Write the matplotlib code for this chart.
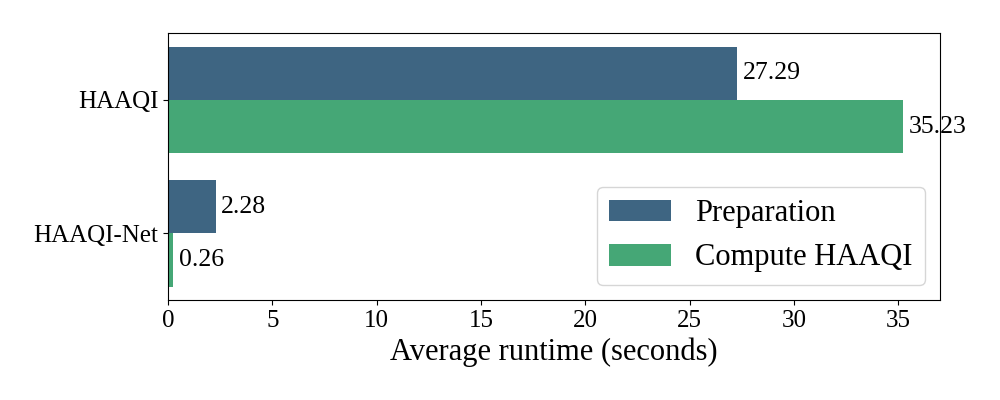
import numpy as np
import matplotlib.pyplot as plt

plt.rcParams['font.family'] = ['Liberation Serif', 'DejaVu Serif']

models = ['HAAQI', 'HAAQI-Net']
stages = ['Preparation', 'Compute HAAQI']
preparation = [27.29, 2.28]
compute = [35.23, 0.26]
colors = ['#3e6582', '#45a776']

fig, ax = plt.subplots(figsize=(10, 4), dpi=100)
y = np.arange(len(models))
h = 0.4

for i, (vals, name) in enumerate(zip([preparation, compute], stages)):
    pos = y - h / 2 + i * h
    bars = ax.barh(pos, vals, height=h, color=colors[i], label=name)
    ax.bar_label(bars, fmt='%.2f', padding=4, fontsize=18.5)

ax.set_yticks(y)
ax.set_yticklabels(models, fontsize=18)
ax.set_ylim(1.5, -0.5)
ax.set_xlim(0, 37)
ax.set_xticks(range(0, 36, 5))
ax.tick_params(axis='x', labelsize=18)
ax.set_xlabel('Average runtime (seconds)', fontsize=22)
ax.legend(fontsize=22, loc='lower right')

plt.subplots_adjust(left=0.168, right=0.94, top=0.917, bottom=0.25)
plt.savefig('out.png')
